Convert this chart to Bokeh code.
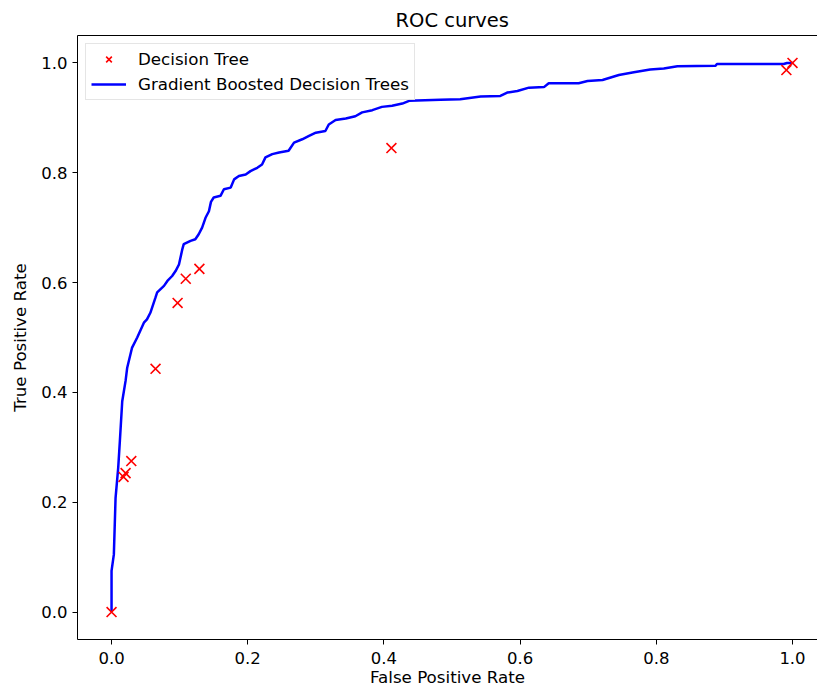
from bokeh.plotting import figure
from bokeh.models import (Range1d, FixedTicker, PrintfTickFormatter, Legend, LegendItem,
                          LinearAxis)
from bokeh.embed import file_html
from bokeh.resources import INLINE

# ---------------- data ----------------
title_text = "ROC curves"
x_label = "False Positive Rate"
y_label = "True Positive Rate"
tick_values = [0.0, 0.2, 0.4, 0.6, 0.8, 1.0]

dt_name = "Decision Tree"
dt_fpr = [0.0, 0.0176, 0.0206, 0.029, 0.0646, 0.097, 0.109, 0.129, 0.411, 0.991, 1.0]
dt_tpr = [0.0, 0.246, 0.253, 0.275, 0.443, 0.563, 0.607, 0.625, 0.845, 0.987, 1.0]

gbdt_name = "Gradient Boosted Decision Trees"
gbdt_fpr = [0.0, 0.0, 0.0034, 0.0059, 0.0098, 0.0122, 0.0157, 0.0206, 0.023, 0.030,
            0.0377, 0.0475, 0.052, 0.057, 0.0646, 0.067, 0.077, 0.082, 0.089, 0.094,
            0.099, 0.104, 0.106, 0.116, 0.123, 0.128, 0.133, 0.138, 0.143, 0.146,
            0.150, 0.160, 0.165, 0.175, 0.180, 0.187, 0.197, 0.204, 0.214, 0.221,
            0.226, 0.236, 0.246, 0.260, 0.268, 0.280, 0.290, 0.300, 0.314, 0.319,
            0.329, 0.344, 0.358, 0.368, 0.383, 0.397, 0.412, 0.427, 0.437, 0.483,
            0.512, 0.542, 0.571, 0.581, 0.596, 0.613, 0.635, 0.642, 0.686, 0.699,
            0.721, 0.745, 0.767, 0.791, 0.811, 0.831, 0.887, 0.889, 0.987, 0.992, 1.0]
gbdt_tpr = [0.0, 0.075, 0.105, 0.208, 0.263, 0.311, 0.384, 0.421, 0.445, 0.481,
            0.500, 0.527, 0.533, 0.545, 0.573, 0.582, 0.594, 0.603, 0.612, 0.621,
            0.633, 0.661, 0.670, 0.676, 0.679, 0.688, 0.700, 0.718, 0.730, 0.747,
            0.755, 0.758, 0.770, 0.773, 0.788, 0.794, 0.797, 0.803, 0.809, 0.815,
            0.828, 0.834, 0.837, 0.840, 0.855, 0.861, 0.867, 0.873, 0.876, 0.888,
            0.896, 0.899, 0.903, 0.910, 0.914, 0.920, 0.922, 0.926, 0.931, 0.933,
            0.934, 0.939, 0.940, 0.946, 0.949, 0.955, 0.956, 0.963, 0.963, 0.967,
            0.969, 0.978, 0.983, 0.988, 0.990, 0.994, 0.995, 0.998, 0.998, 1.0, 1.0]

FONT = "DejaVu Sans"

p = figure(width=817, height=689, output_backend="svg", toolbar_location=None,
           x_range=Range1d(-0.05, 1.0367), y_range=Range1d(-0.05, 1.05),
           min_border_left=77, min_border_right=0, min_border_top=35, min_border_bottom=50)
p.outline_line_color = None
p.grid.visible = False
p.background_fill_color = "white"
p.border_fill_color = "white"

p.title.text = title_text
p.title.align = "left"
p.title.offset = 318
p.title.text_font = FONT
p.title.text_font_size = "19.5px"
p.title.text_font_style = "normal"
p.title.text_color = "black"
p.title.standoff = 8

for ax in (p.xaxis[0], p.yaxis[0]):
    ax.ticker = FixedTicker(ticks=tick_values)
    ax.formatter = PrintfTickFormatter(format="%.1f")
    ax.major_label_text_font = FONT
    ax.major_label_text_font_size = "16.5px"
    ax.major_label_text_color = "black"
    ax.axis_label_text_font = FONT
    ax.axis_label_text_font_size = "16.7px"
    ax.axis_label_text_font_style = "normal"
    ax.axis_label_text_color = "black"
    ax.axis_line_color = "black"
    ax.major_tick_line_color = "black"
    ax.major_tick_out = 5
    ax.major_tick_in = 0
    ax.minor_tick_line_color = None

p.xaxis.axis_label = x_label
p.yaxis.axis_label = y_label
p.xaxis.major_label_standoff = 7
p.xaxis.axis_label_standoff = 0
p.yaxis.major_label_standoff = 5
p.yaxis.axis_label_standoff = 8

top = LinearAxis(ticker=FixedTicker(ticks=[]), major_tick_line_color=None,
                 minor_tick_line_color=None, major_label_text_font_size="0px",
                 axis_line_color="black")
p.add_layout(top, "above")

gl = p.line(gbdt_fpr, gbdt_tpr, line_color="#0000ff", line_width=2.5)
ds = p.scatter(dt_fpr, dt_tpr, marker="x", size=14, line_color="#ff0000", line_width=1.6)

legend = Legend(items=[LegendItem(label=dt_name, renderers=[ds]),
                       LegendItem(label=gbdt_name, renderers=[gl])],
                location="top_left", margin=8, padding=5, spacing=5,
                glyph_width=35, glyph_height=20, label_height=20, label_standoff=12,
                label_text_font=FONT, label_text_font_size="16.7px", label_text_color="black",
                border_line_color="#cccccc", border_line_width=1,
                background_fill_color="white", background_fill_alpha=0.8)
p.add_layout(legend, "center")

open("out.html", "w").write(file_html(p, INLINE))
